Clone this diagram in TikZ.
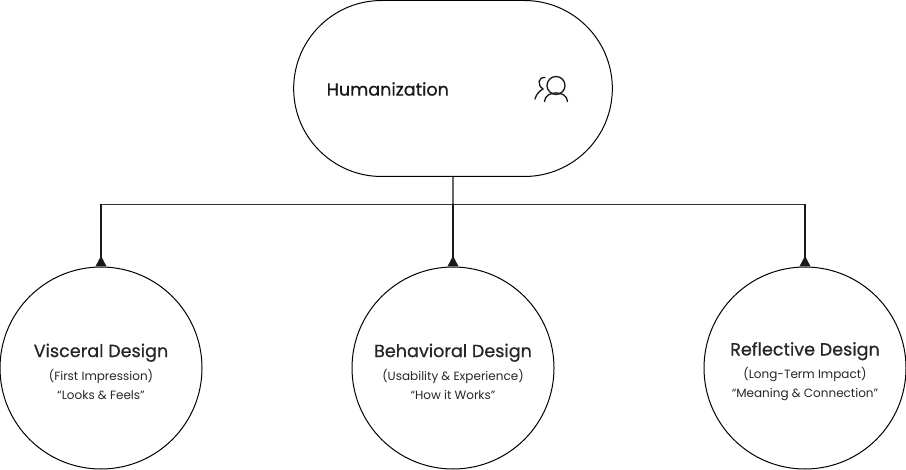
\documentclass[tikz,border=0pt]{standalone}
\usepackage{fontspec}
\setmainfont{Poppins}
\newfontfamily\titlefont{Poppins}[UprightFeatures={FakeBold=0.6}]
\newcommand{\headfont}{\titlefont\fontsize{13.2}{15}\selectfont}
\usetikzlibrary{arrows.meta, positioning, calc, shapes.misc}

\begin{document}
\begin{tikzpicture}[x=0.75pt, y=-0.75pt,
  pill/.style = {draw, rounded rectangle, rounded rectangle arc length=180, line width=0.75pt, minimum width=239pt, minimum height=132pt, inner sep=0pt},
  design/.style = {draw, circle, line width=0.75pt, minimum size=151.5pt, inner sep=0pt, align=center, text=black!85, font=\fontsize{9}{14.4}\selectfont},
  heading/.style = {font=\headfont, text=black!90},
  feed/.style = {draw=black!60, line width=1pt},
  bus/.style = {draw=black!80, line width=1pt},
  drop/.style = {draw=black!90, line width=1.3pt, {Triangle[reversed, length=8pt, width=8pt]}-},
  icon/.style = {draw=black!90, line width=1pt, line cap=round}
]
\useasboundingbox (0,0) rectangle (906,470);
\node[pill] (human) at (453,88.5) {};
\node[heading, anchor=west] (human_label) at (322,89) {Humanization};
% person icon
\draw[icon] (556,85.5) circle (9);
\draw[icon] (544.5,101.5) .. controls (545,90) and (567,90) .. (567.5,101.5);
\draw[icon] (545,77.5) .. controls (538,77) and (537,85) .. (543,89) .. controls (539,91) and (536,95) .. (535,99);

\node[design] (visceral) at (101,368) {\rule{0pt}{15.5pt}{\headfont Visceral Design}\\[3pt](First Impression)\\``Looks \& Feels''};
\node[design] (behavioral) at (453,368) {\rule{0pt}{15.5pt}{\headfont Behavioral Design}\\[3pt](Usability \& Experience)\\``How it Works''};
\node[design] (reflective) at (805,368) {\rule{0pt}{15.5pt}{\headfont Reflective Design}\\[3pt](Long-Term Impact)\\``Meaning \& Connection''};

\coordinate (junction) at (453,204.5);
\coordinate (bus_left) at (101,204.5);
\coordinate (bus_right) at (805,204.5);
\draw[feed] (human.south) -- (junction);
\draw[bus] (bus_left) -- (bus_right);
\draw[drop] (visceral.north) -- (bus_left);
\draw[drop] (behavioral.north) -- (junction);
\draw[drop] (reflective.north) -- (bus_right);
\end{tikzpicture}
\end{document}
